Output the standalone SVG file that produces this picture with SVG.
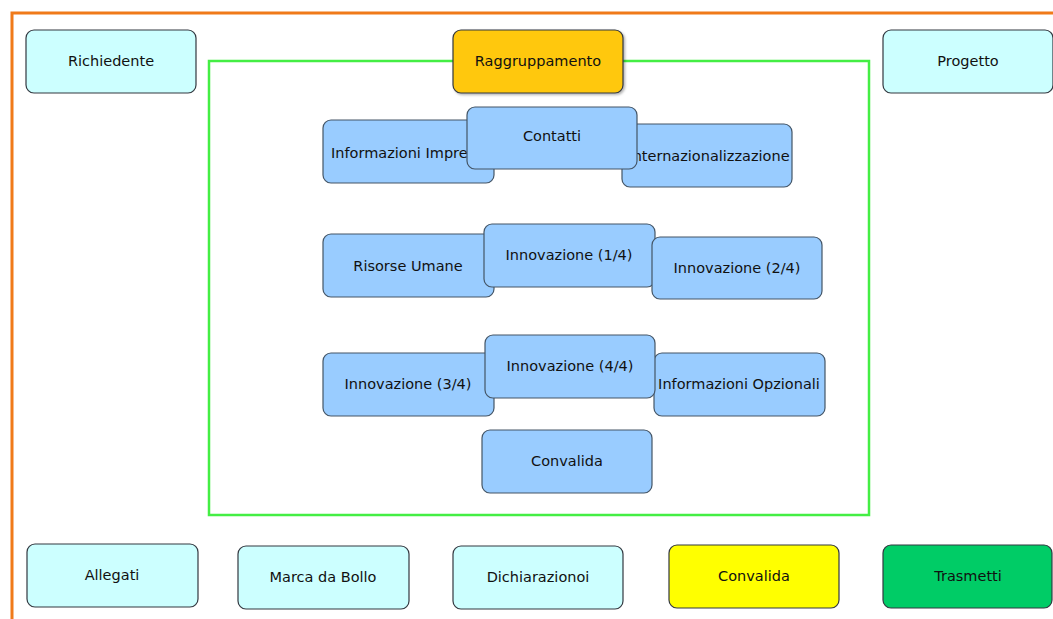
<svg xmlns="http://www.w3.org/2000/svg" width="1053" height="619" viewBox="0 0 1053 619">
<defs>
<filter id="sh" x="-10%" y="-10%" width="125%" height="130%">
<feDropShadow dx="1.5" dy="1.5" stdDeviation="1.2" flood-color="#000" flood-opacity="0.3"/>
</filter>
</defs>
<style>
.b rect{stroke:#333840;stroke-width:1.2}
.cy rect{fill:#ccffff}
.bl rect{fill:#99ccff;stroke:#445566}
text{font-family:"DejaVu Sans","Liberation Sans",sans-serif;font-size:14.5px;fill:#111111;text-anchor:middle;dominant-baseline:central}
</style>
<rect x="0" y="0" width="1053" height="619" fill="#ffffff"/>
<rect id="frame" x="12" y="13" width="1100" height="700" fill="none" stroke="#f07a1a" stroke-width="3"/>
<rect id="group" x="209" y="61" width="660" height="454" fill="none" stroke="#44ee44" stroke-width="2.5"/>
<g id="connectors"></g>

<g id="richiedente" class="b cy"><rect x="26" y="30" width="170" height="63" rx="8"/><text x="111" y="61">Richiedente</text></g>
<g id="raggruppamento" class="b"><rect x="453" y="30" width="170" height="63" rx="8" fill="#ffc811" stroke="#5a4a2a" filter="url(#sh)"/><text x="538" y="61">Raggruppamento</text></g>
<g id="progetto" class="b cy"><rect x="883" y="30" width="170" height="63" rx="8"/><text x="968" y="61">Progetto</text></g>

<g id="informazioni-impresa" class="b bl"><rect x="323" y="120" width="171" height="63" rx="8"/><text x="331" y="153" style="text-anchor:start">Informazioni Impre</text></g>
<g id="internazionalizzazione" class="b bl"><rect x="622" y="124" width="170" height="63" rx="8"/><text x="709" y="156">Internazionalizzazione</text></g>
<g id="contatti" class="b bl"><rect x="467" y="107" width="170" height="62" rx="8"/><text x="552" y="136">Contatti</text></g>

<g id="risorse-umane" class="b bl"><rect x="323" y="234" width="171" height="63" rx="8"/><text x="408" y="266">Risorse Umane</text></g>
<g id="innovazione-1" class="b bl"><rect x="484" y="224" width="171" height="63" rx="8"/><text x="569" y="255">Innovazione (1/4)</text></g>
<g id="innovazione-2" class="b bl"><rect x="652" y="237" width="170" height="62" rx="8"/><text x="737" y="268">Innovazione (2/4)</text></g>

<g id="innovazione-3" class="b bl"><rect x="323" y="353" width="171" height="63" rx="8"/><text x="408" y="384">Innovazione (3/4)</text></g>
<g id="informazioni-opzionali" class="b bl"><rect x="654" y="353" width="171" height="63" rx="8"/><text x="739" y="384">Informazioni Opzionali</text></g>
<g id="innovazione-4" class="b bl"><rect x="485" y="335" width="170" height="63" rx="8"/><text x="570" y="366">Innovazione (4/4)</text></g>
<g id="convalida-inner" class="b bl"><rect x="482" y="430" width="170" height="63" rx="8"/><text x="567" y="461">Convalida</text></g>

<g id="allegati" class="b cy"><rect x="27" y="544" width="171" height="63" rx="8"/><text x="112" y="575">Allegati</text></g>
<g id="marca-da-bollo" class="b cy"><rect x="238" y="546" width="171" height="63" rx="8"/><text x="323" y="577">Marca da Bollo</text></g>
<g id="dichiarazioni" class="b cy"><rect x="453" y="546" width="170" height="63" rx="8"/><text x="538" y="577">Dichiarazionoi</text></g>
<g id="convalida" class="b"><rect x="669" y="545" width="170" height="63" rx="8" fill="#ffff00"/><text x="754" y="576">Convalida</text></g>
<g id="trasmetti" class="b"><rect x="883" y="545" width="169" height="63" rx="8" fill="#00cc66"/><text x="968" y="576">Trasmetti</text></g>
</svg>
